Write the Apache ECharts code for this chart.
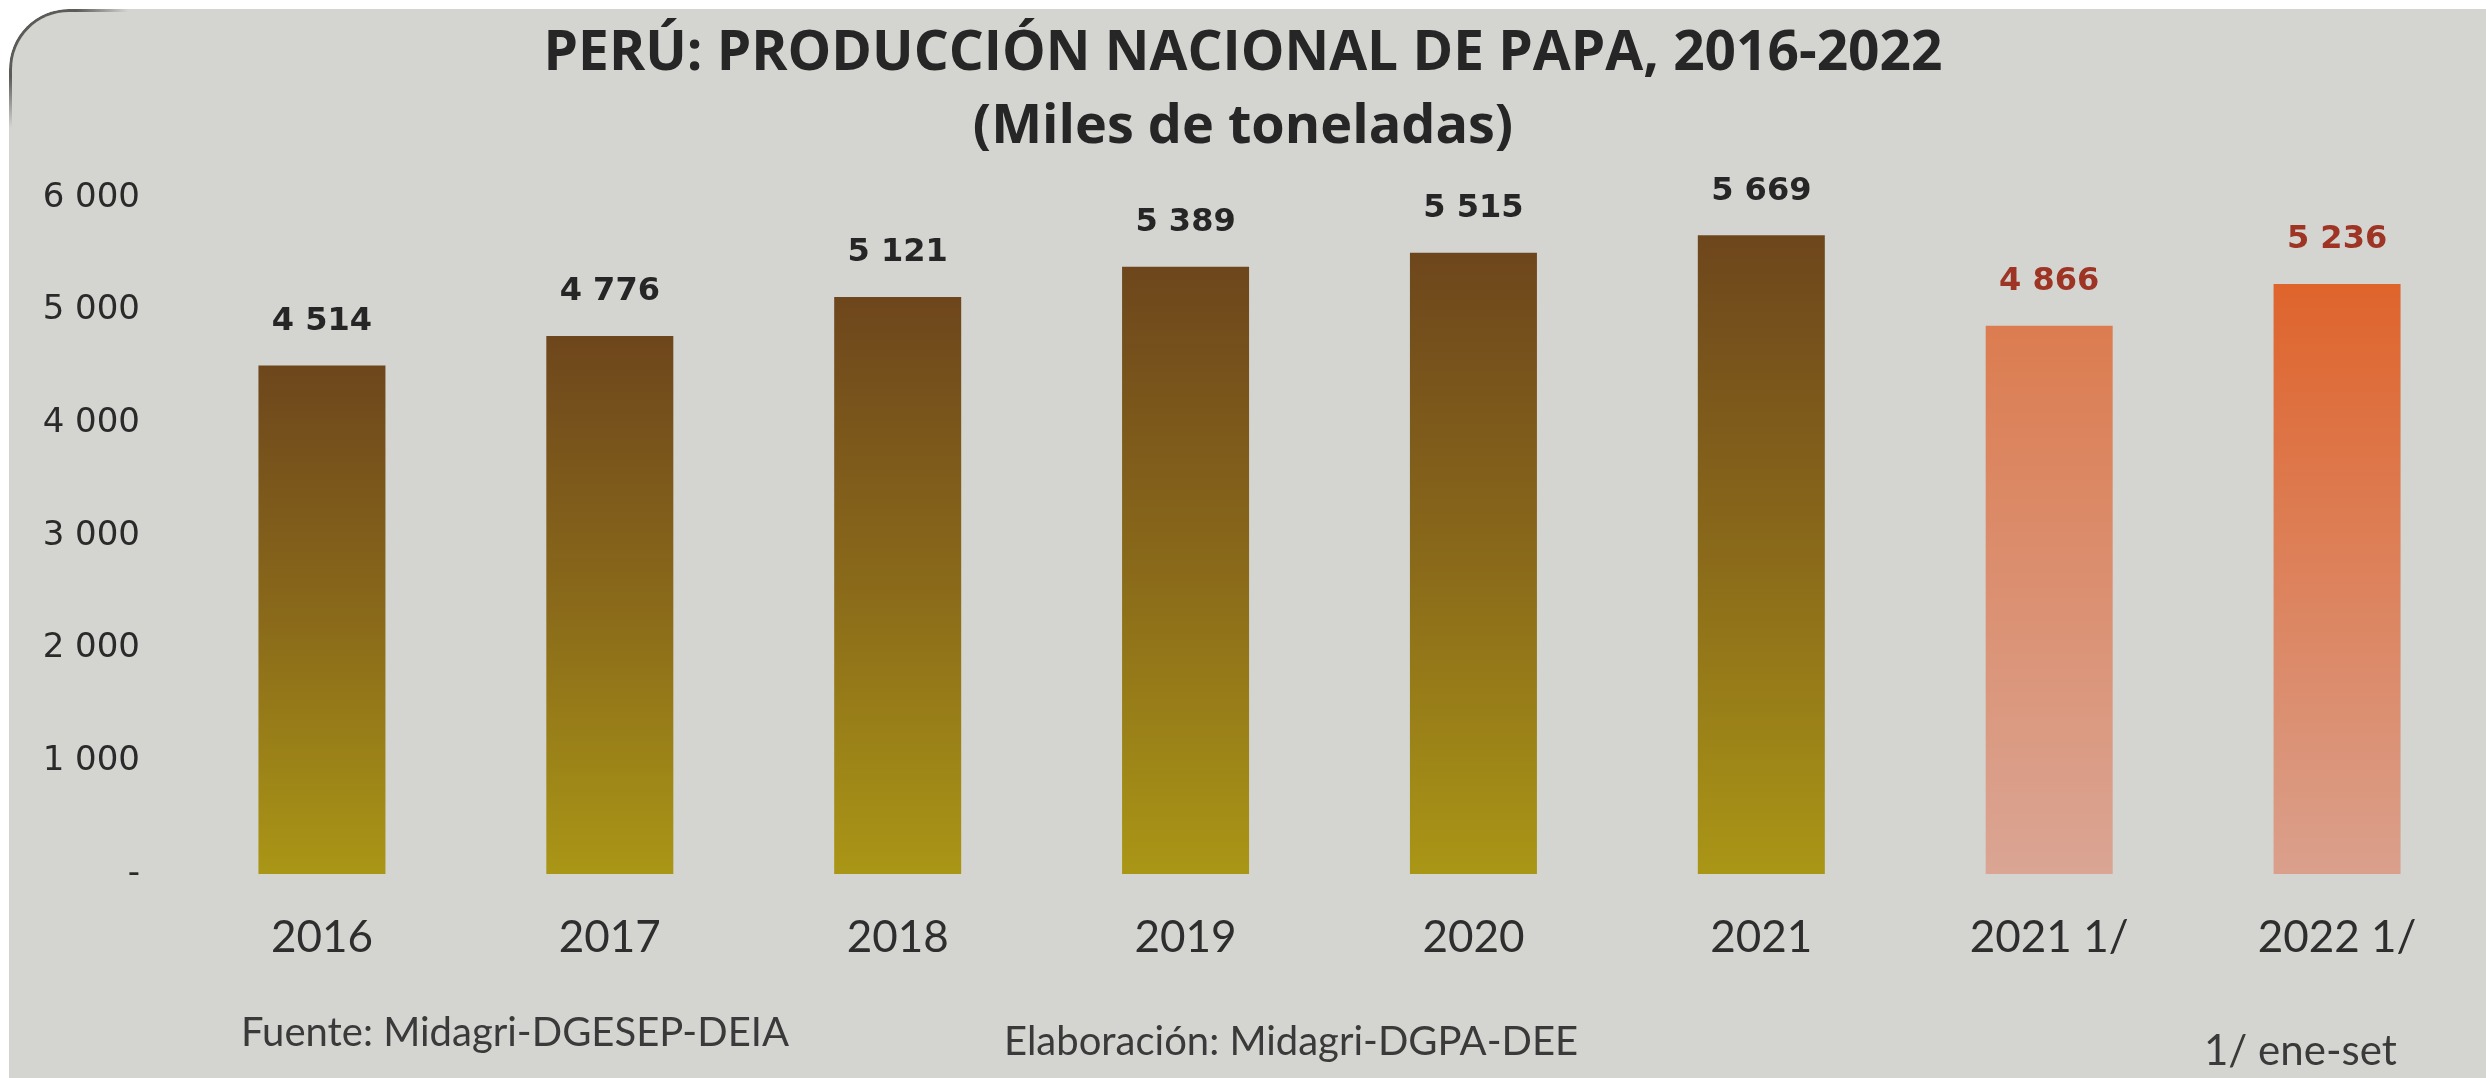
<!DOCTYPE html>
<html>
<head>
<meta charset="utf-8">
<script src="https://cdn.jsdelivr.net/npm/echarts@6/dist/echarts.min.js"></script>
<style>
  html, body { margin: 0; padding: 0; background: #ffffff; }
  #frame { position: absolute; left: 9px; top: 9px; width: 2477px; height: 1069px;
           background: #d4d5d1; border-top-left-radius: 60px; overflow: hidden; }
  #corner { position: absolute; left: 0; top: 0; width: 120px; height: 120px; box-sizing: border-box;
            border-top-left-radius: 60px; border-top: 3px solid #5a5c58; border-left: 3px solid #5a5c58;
            -webkit-mask-image: radial-gradient(circle at 0 0, #000 40%, transparent 70%);
            mask-image: radial-gradient(circle at 0 0, #000 40%, transparent 70%); }
  #chart { position: absolute; left: -9px; top: -9px; width: 2486px; height: 1078px; }
</style>
</head>
<body>
<div id="frame"><div id="corner"></div><div id="chart"></div></div>
<script>
const categories = ['2016', '2017', '2018', '2019', '2020', '2021', '2021 1/', '2022 1/'];
const production = [4514, 4776, 5121, 5389, 5515, 5669, 4866, 5236];
const partialYear = [false, false, false, false, false, false, true, true];
const yTicks = [0, 1000, 2000, 3000, 4000, 5000, 6000];

function fmt(v) {
  if (v === 0) return '-';
  return String(v).replace(/\B(?=(\d{3})+(?!\d))/g, ' ');
}

const brownGrad = { type: 'linear', x: 0, y: 0, x2: 0, y2: 1,
  colorStops: [{ offset: 0, color: '#6e461c' }, { offset: 0.5, color: '#8a6a1a' }, { offset: 1, color: '#aa9616' }] };
const orangeGradA = { type: 'linear', x: 0, y: 0, x2: 0, y2: 1,
  colorStops: [{ offset: 0, color: '#dc7c50' }, { offset: 1, color: '#daa594' }] };
const orangeGradB = { type: 'linear', x: 0, y: 0, x2: 0, y2: 1,
  colorStops: [{ offset: 0, color: '#df642c' }, { offset: 1, color: '#daa08c' }] };

const seriesData = production.map((v, i) => ({
  value: v,
  itemStyle: { color: partialYear[i] ? (i === 6 ? orangeGradA : orangeGradB) : brownGrad },
  label: { color: partialYear[i] ? '#9e3424' : '#262626' }
}));

const chart = echarts.init(document.getElementById('chart'));
chart.setOption({
  backgroundColor: 'transparent',
  animation: false,
  title: [
    { text: 'PERÚ: PRODUCCIÓN NACIONAL DE PAPA, 2016-2022', left: 'center', top: 22,
      textStyle: { fontFamily: '"Open Sans", sans-serif', fontWeight: 'bold', fontSize: 55, color: '#262626' } },
    { text: '(Miles de toneladas)', left: 'center', top: 96,
      textStyle: { fontFamily: '"Open Sans", sans-serif', fontWeight: 'bold', fontSize: 54, color: '#262626' } }
  ],
  graphic: [
    { type: 'text', left: 241, top: 1013, style: { text: 'Fuente: Midagri-DGESEP-DEIA', font: '40px Lato, sans-serif', fill: '#3a3a3a' } },
    { type: 'text', left: 1004, top: 1022, style: { text: 'Elaboración: Midagri-DGPA-DEE', font: '40px Lato, sans-serif', fill: '#3a3a3a' } },
    { type: 'text', left: 2204, top: 1030, style: { text: '1/ ene-set', font: '42px Lato, sans-serif', fill: '#3a3a3a' } }
  ],
  grid: { left: 178, right: 5, top: 198, bottom: 204 },
  xAxis: {
    type: 'category', data: categories,
    axisLine: { show: false }, axisTick: { show: false },
    axisLabel: { margin: 42, fontFamily: 'Lato, sans-serif', fontSize: 44, color: '#2e2e2e' }
  },
  yAxis: {
    type: 'value', min: 0, max: 6000, interval: 1000,
    splitLine: { show: false }, axisLine: { show: false }, axisTick: { show: false },
    axisLabel: { margin: 38, fontFamily: '"DejaVu Sans", sans-serif', fontSize: 34, color: '#2a2a2a',
      formatter: v => yTicks.includes(v) ? fmt(v) : '' }
  },
  series: [{
    type: 'bar', data: seriesData, barWidth: 127,
    label: { show: true, position: 'top', distance: 28, fontFamily: '"DejaVu Sans", sans-serif',
      fontWeight: 'bold', fontSize: 32, formatter: p => fmt(p.value) }
  }]
});
</script>
</body>
</html>
